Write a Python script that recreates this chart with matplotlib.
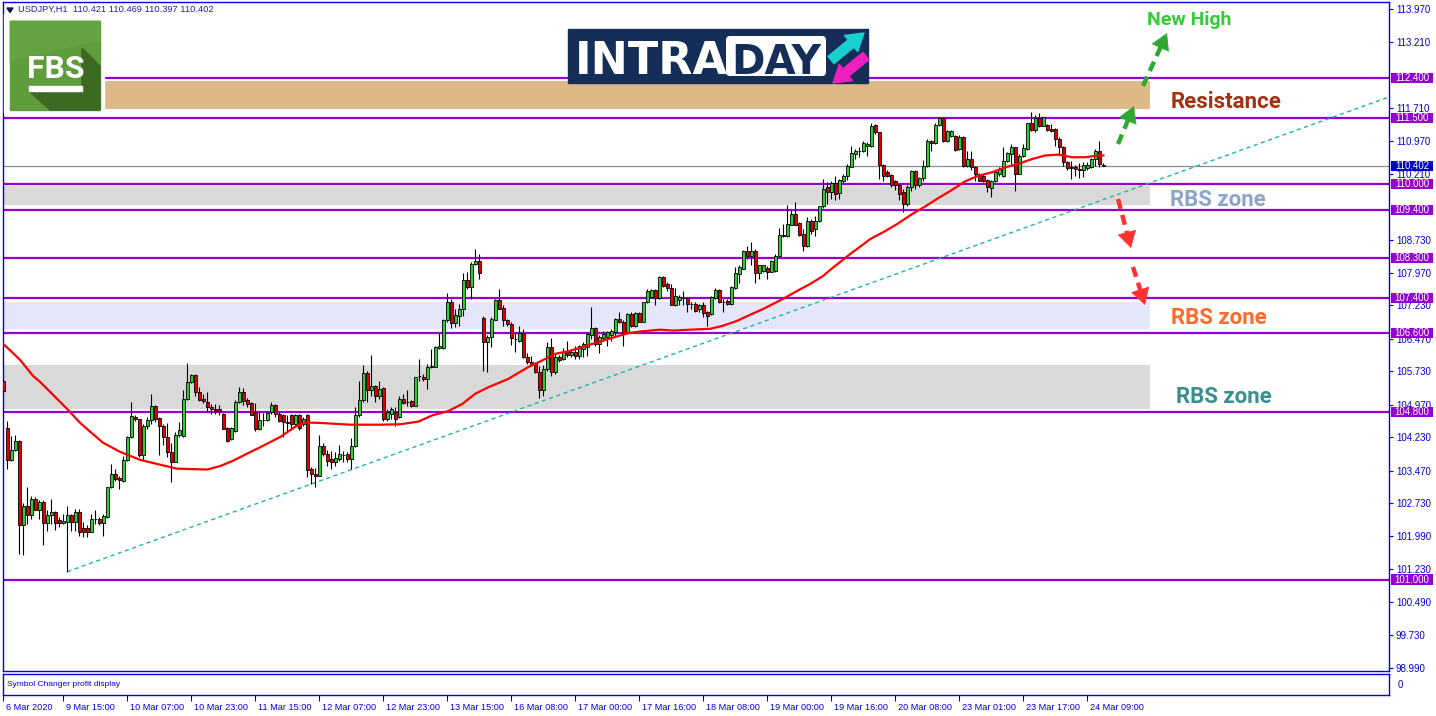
import matplotlib.pyplot as plt
from matplotlib.patches import Rectangle, FancyBboxPatch, Polygon
from matplotlib.transforms import ScaledTranslation

plt.rcParams['font.family'] = ['Liberation Sans', 'DejaVu Sans']

# USDJPY H1 bars (bar 0 = 6 Mar 23:00)
opens = [105.52, 104.45, 103.71, 103.95, 104.14, 102.25, 102.67, 102.46, 102.83, 102.58,
         102.76, 102.28, 102.46, 102.53, 102.36, 102.28, 102.30, 102.47, 102.30, 102.53,
         102.17, 102.17, 102.08, 102.38, 102.38, 102.29, 102.42, 103.10, 103.40, 103.31,
         103.23, 103.71, 104.24, 104.69, 104.64, 103.84, 104.49, 104.63, 104.94, 104.67,
         104.50, 104.24, 103.89, 103.68, 104.29, 104.27, 105.11, 105.49, 105.66, 105.26,
         105.11, 105.03, 104.93, 104.88, 104.88, 104.77, 104.45, 104.20, 104.37, 105.03,
         105.26, 105.07, 105.01, 104.80, 104.42, 104.63, 104.63, 104.80, 104.96, 104.77,
         104.74, 104.59, 104.73, 104.54, 104.74, 104.54, 104.74, 103.52, 103.40, 103.36,
         104.03, 103.86, 103.74, 103.67, 103.74, 103.84, 103.86, 103.73, 104.03, 104.73,
         105.07, 105.70, 105.30, 105.41, 105.18, 105.36, 104.65, 104.77, 104.80, 104.69,
         105.11, 105.03, 105.05, 104.95, 105.62, 105.61, 105.55, 105.83, 105.84, 106.27,
         106.27, 106.89, 107.32, 106.83, 107.00, 107.15, 107.80, 107.66, 108.17, 108.25,
         106.95, 106.41, 106.51, 106.91, 107.36, 107.17, 106.90, 106.81, 106.47, 106.43,
         106.60, 106.05, 105.94, 105.92, 105.71, 105.30, 105.79, 106.28, 105.72, 106.05,
         106.02, 106.18, 106.10, 106.18, 106.09, 106.24, 106.28, 106.55, 106.71, 106.36,
         106.49, 106.51, 106.55, 106.62, 106.92, 106.86, 106.62, 107.04, 106.76, 107.06,
         106.86, 107.30, 107.42, 107.58, 107.40, 107.87, 107.72, 107.63, 107.24, 107.36,
         107.40, 107.40, 107.27, 107.26, 107.14, 107.24, 107.09, 107.04, 107.39, 107.58,
         107.32, 107.34, 107.27, 107.62, 107.95, 108.06, 108.46, 108.36, 108.48, 107.97,
         108.02, 108.08, 108.00, 108.02, 108.36, 108.83, 108.82, 109.07, 109.31, 109.11,
         108.86, 108.58, 109.16, 108.97, 109.14, 109.49, 109.93, 109.80, 110.01, 109.78,
         110.05, 110.18, 110.39, 110.68, 110.75, 110.74, 110.86, 110.86, 111.34, 111.17,
         110.43, 110.26, 110.20, 110.07, 109.97, 109.80, 109.54, 109.92, 110.28, 109.96,
         110.13, 110.41, 110.96, 110.92, 111.33, 111.49, 110.96, 111.09, 111.09, 110.79,
         111.07, 110.41, 110.56, 110.39, 110.22, 110.18, 110.08, 109.90, 110.05, 110.21,
         110.18, 110.51, 110.68, 110.83, 110.22, 110.62, 110.79, 111.37, 111.22, 111.49,
         111.32, 111.34, 111.24, 111.24, 111.02, 110.84, 110.49, 110.36, 110.39, 110.33,
         110.31, 110.36, 110.37, 110.55, 110.75, 110.421]
highs = [105.55, 104.61, 104.27, 104.29, 104.17, 102.74, 103.10, 102.89, 102.87, 102.80,
         102.80, 102.57, 102.82, 102.55, 102.42, 102.49, 102.68, 102.49, 102.61, 102.61,
         102.30, 102.23, 102.49, 102.58, 102.43, 102.49, 103.11, 103.63, 103.52, 103.36,
         103.80, 104.27, 105.03, 104.74, 104.65, 104.54, 104.69, 105.22, 104.96, 104.69,
         104.54, 104.55, 104.10, 104.35, 104.58, 105.30, 105.92, 105.67, 105.67, 105.37,
         105.22, 105.26, 104.99, 104.99, 104.96, 104.78, 104.46, 104.46, 105.07, 105.37,
         105.35, 105.13, 105.03, 105.01, 104.80, 104.78, 104.80, 105.03, 104.99, 104.80,
         104.77, 104.74, 104.77, 104.77, 104.77, 104.69, 104.77, 103.55, 103.53, 104.29,
         104.11, 103.95, 103.93, 103.89, 104.05, 103.93, 103.89, 104.21, 104.92, 105.52,
         105.88, 105.73, 106.11, 105.42, 105.52, 105.37, 104.88, 104.92, 104.92, 105.18,
         105.22, 105.30, 105.07, 105.61, 106.02, 105.67, 105.90, 106.24, 106.30, 106.60,
         106.92, 107.52, 107.38, 107.14, 107.27, 107.98, 108.00, 108.21, 108.52, 108.40,
         107.00, 106.55, 106.96, 107.38, 107.61, 107.23, 106.92, 106.85, 106.61, 106.76,
         106.70, 106.15, 106.09, 105.95, 105.86, 105.88, 106.39, 106.48, 106.12, 106.10,
         106.27, 106.43, 106.25, 106.32, 106.33, 106.39, 106.62, 107.19, 106.74, 106.55,
         106.66, 106.66, 106.70, 106.94, 107.08, 106.89, 107.06, 107.09, 107.08, 107.08,
         107.32, 107.61, 107.61, 107.61, 107.89, 107.89, 107.77, 107.72, 107.62, 107.47,
         107.57, 107.42, 107.32, 107.30, 107.27, 107.30, 107.11, 107.44, 107.62, 107.61,
         107.38, 107.38, 107.68, 108.10, 108.14, 108.50, 108.58, 108.68, 108.52, 108.15,
         108.14, 108.12, 108.27, 108.40, 108.99, 109.08, 109.52, 109.41, 109.58, 109.12,
         108.96, 109.25, 109.20, 109.27, 109.50, 110.10, 110.03, 110.07, 110.18, 110.11,
         110.22, 110.45, 110.86, 110.79, 110.83, 110.96, 110.94, 111.37, 111.36, 111.18,
         110.45, 110.30, 110.22, 110.08, 110.00, 109.88, 109.96, 110.30, 110.30, 110.16,
         110.54, 111.02, 110.99, 111.37, 111.51, 111.51, 111.21, 111.22, 111.11, 111.11,
         111.09, 110.75, 110.75, 110.41, 110.25, 110.22, 110.11, 110.08, 110.30, 110.37,
         110.83, 110.71, 110.90, 110.84, 110.68, 110.90, 111.39, 111.62, 111.55, 111.60,
         111.52, 111.36, 111.36, 111.27, 111.05, 110.86, 110.51, 110.51, 110.43, 110.46,
         110.49, 110.49, 110.58, 110.79, 110.96, 110.469]
lows = [105.26, 103.52, 103.70, 103.93, 101.58, 101.55, 102.27, 102.38, 102.57, 102.38,
        101.79, 102.11, 102.27, 102.13, 102.19, 102.27, 101.18, 102.11, 102.11, 102.00,
        101.96, 101.96, 102.07, 102.27, 102.23, 102.00, 102.40, 103.08, 103.25, 103.06,
        103.21, 103.70, 104.21, 104.61, 103.78, 103.72, 104.42, 104.54, 104.58, 103.82,
        104.05, 103.78, 103.21, 103.67, 104.24, 104.24, 105.07, 105.46, 105.18, 105.05,
        105.01, 104.80, 104.77, 104.77, 104.73, 104.42, 104.12, 104.17, 104.35, 105.01,
        104.96, 104.92, 104.73, 104.37, 104.40, 104.48, 104.61, 104.77, 104.69, 104.58,
        104.23, 104.35, 104.39, 104.46, 104.41, 104.50, 103.33, 103.17, 103.10, 103.35,
        103.80, 103.59, 103.52, 103.59, 103.70, 103.67, 103.68, 103.52, 104.01, 104.69,
        105.03, 105.03, 105.18, 105.03, 105.11, 104.61, 104.61, 104.65, 104.50, 104.67,
        104.99, 104.95, 104.92, 104.94, 105.52, 105.52, 105.33, 105.80, 105.83, 106.24,
        106.24, 106.85, 106.71, 106.73, 106.76, 106.98, 107.61, 107.38, 108.14, 107.83,
        105.73, 105.71, 106.28, 106.89, 107.14, 106.77, 106.77, 106.33, 106.17, 106.39,
        106.03, 105.90, 105.86, 105.70, 105.12, 105.18, 105.75, 105.62, 105.68, 105.95,
        105.98, 106.05, 106.05, 106.01, 106.02, 106.05, 106.09, 106.47, 106.30, 106.15,
        106.43, 106.32, 106.43, 106.51, 106.83, 106.30, 106.61, 106.74, 106.74, 106.85,
        106.85, 107.29, 107.39, 107.23, 107.38, 107.64, 107.57, 107.23, 107.21, 107.24,
        107.23, 107.09, 107.15, 107.09, 107.09, 106.96, 106.76, 107.01, 107.38, 107.29,
        107.09, 107.24, 107.24, 107.61, 107.74, 108.05, 108.29, 108.14, 107.74, 107.83,
        107.99, 107.83, 107.99, 108.00, 108.35, 108.78, 108.78, 109.05, 109.05, 108.80,
        108.46, 108.55, 108.86, 108.82, 109.12, 109.45, 109.54, 109.65, 109.63, 109.65,
        110.01, 110.08, 110.37, 110.56, 110.60, 110.71, 110.64, 110.84, 111.13, 110.11,
        110.07, 110.14, 109.93, 109.86, 109.63, 109.35, 109.50, 109.84, 109.88, 109.92,
        110.05, 110.37, 110.75, 110.90, 111.32, 110.94, 110.94, 111.07, 110.75, 110.77,
        110.39, 110.37, 110.30, 110.07, 110.05, 110.03, 109.80, 109.69, 110.03, 110.18,
        110.16, 110.49, 110.45, 109.83, 110.21, 110.60, 110.77, 111.19, 111.17, 111.28,
        111.30, 111.19, 111.17, 110.86, 110.68, 110.41, 110.30, 110.11, 110.18, 110.13,
        110.14, 110.30, 110.36, 110.41, 110.37, 110.397]
closes = [105.28, 103.72, 103.95, 104.14, 102.23, 102.67, 102.46, 102.83, 102.59, 102.76,
          102.28, 102.46, 102.53, 102.28, 102.28, 102.34, 102.46, 102.30, 102.53, 102.08,
          102.08, 102.08, 102.38, 102.38, 102.28, 102.44, 103.10, 103.40, 103.29, 103.27,
          103.71, 104.24, 104.71, 104.64, 103.84, 104.50, 104.63, 104.94, 104.64, 104.50,
          104.24, 103.89, 103.68, 104.29, 104.39, 105.11, 105.49, 105.66, 105.26, 105.09,
          105.05, 104.92, 104.88, 104.84, 104.84, 104.42, 104.16, 104.45, 105.03, 105.26,
          105.05, 104.99, 104.75, 104.42, 104.63, 104.63, 104.78, 104.96, 104.77, 104.61,
          104.59, 104.56, 104.54, 104.74, 104.44, 104.65, 103.48, 103.40, 103.36, 104.03,
          103.86, 103.70, 103.67, 103.77, 103.86, 103.83, 103.73, 104.03, 104.73, 105.07,
          105.70, 105.30, 105.41, 105.18, 105.33, 104.65, 104.80, 104.88, 104.65, 105.11,
          105.02, 105.03, 104.95, 105.60, 105.62, 105.55, 105.84, 105.86, 106.28, 106.30,
          106.91, 107.32, 106.83, 107.02, 107.15, 107.80, 107.66, 108.17, 108.25, 107.97,
          106.39, 106.52, 106.92, 107.36, 107.15, 106.89, 106.81, 106.48, 106.47, 106.60,
          106.05, 105.94, 105.90, 105.71, 105.30, 105.79, 106.28, 105.71, 106.05, 106.00,
          106.18, 106.10, 106.18, 106.08, 106.30, 106.36, 106.58, 106.71, 106.36, 106.51,
          106.58, 106.62, 106.64, 106.92, 106.85, 106.61, 107.04, 106.76, 107.06, 106.86,
          107.30, 107.57, 107.58, 107.40, 107.87, 107.68, 107.62, 107.24, 107.45, 107.42,
          107.40, 107.27, 107.26, 107.11, 107.24, 107.06, 107.00, 107.42, 107.59, 107.30,
          107.32, 107.27, 107.66, 107.97, 108.10, 108.46, 108.36, 108.48, 107.97, 108.14,
          108.14, 108.00, 108.25, 108.36, 108.83, 108.80, 109.08, 109.31, 109.07, 108.83,
          108.58, 109.16, 108.93, 109.16, 109.49, 109.88, 109.80, 110.01, 109.77, 110.08,
          110.18, 110.41, 110.69, 110.75, 110.75, 110.92, 110.90, 111.32, 111.17, 110.43,
          110.18, 110.18, 109.96, 109.96, 109.77, 109.54, 109.92, 110.28, 109.96, 110.13,
          110.41, 110.96, 110.92, 111.34, 111.49, 110.96, 111.19, 111.19, 110.77, 111.07,
          110.41, 110.56, 110.39, 110.22, 110.07, 110.05, 109.92, 110.07, 110.26, 110.33,
          110.51, 110.69, 110.84, 110.22, 110.64, 110.81, 111.37, 111.22, 111.49, 111.32,
          111.51, 111.22, 111.19, 111.02, 110.83, 110.49, 110.36, 110.39, 110.33, 110.30,
          110.43, 110.43, 110.56, 110.75, 110.45, 110.402]

# moving average (red line): bar position, price
ma_idx = [-0.1, 2.4, 4.2, 7.4, 9.2, 12.4, 15.9, 19.2, 21.7, 24.9, 29.2, 34.2, 39.2, 43.4,
          50.9, 54.2, 57.4, 60.9, 64.9, 69.2, 72.9, 75.4, 79.2, 82.9, 86.7, 90.4, 94.2, 99.2,
          103.7, 107.2, 111.2, 114.7, 117.9, 121.2, 126.2, 131.2, 134.7, 137.9, 141.7, 145.9,
          149.9, 154.2, 156.7, 159.2, 164.2, 167.4, 171.7, 176.7, 179.9, 183.4, 186.7, 189.9,
          194.9, 198.4, 201.7, 204.9, 206.7, 211.7, 216.7, 220.4, 223.4, 227.2, 230.4, 233.7,
          237.2, 240.4, 243.7, 247.2, 250.4, 253.7, 257.2, 260.4, 263.7, 267.2, 270.4, 273.7, 275.0]
ma_val = [106.36, 106.15, 105.99, 105.63, 105.49, 105.20, 104.88, 104.56, 104.36, 104.11,
          103.90, 103.72, 103.61, 103.52, 103.50, 103.58, 103.70, 103.86, 104.04, 104.24,
          104.47, 104.57, 104.56, 104.54, 104.52, 104.52, 104.52, 104.53, 104.59, 104.73,
          104.83, 104.99, 105.22, 105.37, 105.56, 105.83, 105.98, 106.13, 106.20, 106.32,
          106.43, 106.55, 106.61, 106.64, 106.68, 106.66, 106.68, 106.70, 106.77, 106.88,
          107.02, 107.15, 107.38, 107.56, 107.72, 107.90, 108.04, 108.40, 108.74, 108.92,
          109.08, 109.31, 109.48, 109.67, 109.86, 110.05, 110.18, 110.26, 110.37, 110.45,
          110.56, 110.64, 110.66, 110.60, 110.60, 110.64, 110.64]

levels = [112.4, 111.5, 110.0, 109.4, 108.3, 107.4, 106.6, 104.8, 101.0]
last_price = 110.402
axis_ticks = [113.97, 113.21, 111.71, 110.97, 110.21, 108.73, 107.97, 107.23, 106.47,
              105.73, 104.97, 104.23, 103.47, 102.73, 101.99, 101.23, 100.49, 99.73, 98.99]
time_pos = [0, 15, 31, 47, 63, 79, 95, 111, 127, 143, 159, 175, 191, 207, 223, 239, 255, 271]
time_labels = ['6 Mar 2020', '9 Mar 15:00', '10 Mar 07:00', '10 Mar 23:00', '11 Mar 15:00',
               '12 Mar 07:00', '12 Mar 23:00', '13 Mar 15:00', '16 Mar 08:00', '17 Mar 00:00',
               '17 Mar 16:00', '18 Mar 08:00', '19 Mar 00:00', '19 Mar 16:00', '20 Mar 08:00',
               '23 Mar 01:00', '23 Mar 17:00', '24 Mar 09:00']

# zones: (left bar, right bar, low, high, colour)
zones = [(25.2, 286.7, 111.70, 112.34, '#DEB887'),
         (-0.1, 286.7, 109.52, 109.95, '#D9D9D9'),
         (-0.1, 286.7, 106.70, 107.32, '#E6E6FA'),
         (-0.1, 286.7, 104.88, 105.88, '#D9D9D9')]
trend_x = [16, 346.7]
trend_y = [101.18, 111.98]

W, H = 1436, 716
BLUE = '#0000E0'
PURPLE = '#9400D3'

fig = plt.figure(figsize=(W / 100, H / 100), dpi=100)
fig.patch.set_facecolor('white')

ax = fig.add_axes([3 / W, 1 - 671 / H, 1386 / W, 669 / H])
ax.set_xlim(-0.1, 346.4)
ax.set_ylim(98.92, 114.13)

for x0, x1, lo, hi, col in zones:
    ax.add_patch(Rectangle((x0, lo), x1 - x0, hi - lo, facecolor=col, edgecolor='none', zorder=1))
for lv in levels:
    ax.axhline(lv, color=PURPLE, lw=1.6, zorder=2)
ax.axhline(last_price, color='#8C8C8C', lw=0.9, zorder=2)
ax.plot(trend_x, trend_y, color='#20B2AA', lw=1.0, ls=(0, (3, 2.5)), zorder=2.5)

# candles
xs = list(range(len(closes)))
body_lo = [min(o, c) for o, c in zip(opens, closes)]
body_h = [abs(c - o) for o, c in zip(opens, closes)]
cols = ['#2ECC2E' if c >= o else '#E00000' for o, c in zip(opens, closes)]
ax.vlines(xs, lows, highs, color='black', lw=0.8, zorder=3)
ax.bar(xs, body_h, bottom=body_lo, width=0.72, color=cols, edgecolor='black', linewidth=0.6, zorder=4)

ax.plot(ma_idx, ma_val, color='#FF0000', lw=1.6, zorder=5)

# right price scale
ax.yaxis.tick_right()
ax.set_yticks(axis_ticks)
ax.set_yticklabels([f'{v:.3f}' for v in axis_ticks])
ax.tick_params(axis='y', direction='out', length=3, width=0.8, color=BLUE,
               labelcolor=BLUE, labelsize=7, pad=2)
ax.set_xticks([])
for s in ax.spines.values():
    s.set_color(BLUE)
    s.set_linewidth(1)

yt = ax.get_yaxis_transform()
for lv in levels + [last_price]:
    fc = '#0000CD' if lv == last_price else PURPLE
    ax.add_patch(Rectangle((1.0014, lv - 0.115), 0.0303, 0.23, transform=yt, facecolor=fc,
                           edgecolor='none', clip_on=False, zorder=6))
    ax.text(1.0166, lv, f'{lv:.3f}', transform=yt, ha='center', va='center', color='white',
            fontsize=7, clip_on=False, zorder=7)

# indicator sub-window and time scale
ax2 = fig.add_axes([3 / W, 1 - 695 / H, 1386 / W, 21 / H])
ax2.set_xlim(ax.get_xlim())
ax2.set_ylim(0, 1)
ax2.set_yticks([])
ax2.set_xticks(time_pos)
ax2.set_xticklabels(time_labels, ha='left')
ax2.tick_params(axis='x', direction='out', length=4, width=0.8, color=BLUE,
                labelcolor=BLUE, labelsize=6.6, pad=1.5)
for lab in ax2.get_xticklabels():
    lab.set_transform(lab.get_transform() + ScaledTranslation(2 / 72, 0, fig.dpi_scale_trans))
for s in ax2.spines.values():
    s.set_color(BLUE)
    s.set_linewidth(1)
ax2.text(0.003, 0.5, 'Symbol Changer profit display', transform=ax2.transAxes,
         color=BLUE, fontsize=6, va='center')
ax2.text(1.006, 0.5, '0', transform=ax2.transAxes, color=BLUE, fontsize=7, va='center')

# overlay in pixel coordinates for logos and annotations
ov = fig.add_axes([0, 0, 1, 1], zorder=10)
ov.set_xlim(0, W)
ov.set_ylim(H, 0)
ov.axis('off')

ov.add_patch(Polygon([[7, 8], [13, 8], [10, 12.5]], closed=True, color='#101060'))
ov.text(18, 9.5, 'USDJPY,H1  110.421 110.469 110.397 110.402', color='#1E1EB4',
        fontsize=6.7, va='center', ha='left')

# FBS logo
ov.add_patch(Rectangle((3.5, 14), 100.5, 99, color='white', zorder=1))
ov.add_patch(Rectangle((10, 21), 90, 89, color='#5E9C3C', zorder=2))
ov.add_patch(Polygon([[10, 21], [100, 21], [100, 40], [10, 60]], closed=True,
                     color='#6AA846', alpha=0.6, zorder=2))
ov.add_patch(Polygon([[82, 48], [100, 66], [100, 110], [50, 110], [29, 91], [82, 91]],
                     closed=True, color='#3B6A22', zorder=3))
ov.text(55.5, 78, 'FBS', color='white', fontsize=23, fontweight='bold', family='Roboto',
        ha='center', va='baseline', zorder=4)
ov.add_patch(Rectangle((29, 86), 53, 5, color='white', zorder=4))

# INTRADAY logo
ov.add_patch(Rectangle((568, 29), 300, 54, color='#152E57', zorder=2))
ov.text(575, 73.5, 'INTRA', color='white', fontsize=32, fontweight='bold',
        family='DejaVu Sans', ha='left', va='baseline', zorder=3)
ov.add_patch(FancyBboxPatch((726, 36), 100, 40, boxstyle='round,pad=0,rounding_size=4',
                            fc='white', ec='none', zorder=3))
ov.text(776, 73.5, 'DAY', color='#152E57', fontsize=29, fontweight='bold',
        family='DejaVu Sans', ha='center', va='baseline', zorder=4)
ov.annotate('', xy=(864, 33), xytext=(831, 60), zorder=4,
            arrowprops=dict(arrowstyle='simple,head_length=0.8,head_width=1.0,tail_width=0.45',
                            color='#1ACFCF', mutation_scale=15, shrinkA=0, shrinkB=0))
ov.annotate('', xy=(833, 83), xytext=(866, 56), zorder=4,
            arrowprops=dict(arrowstyle='simple,head_length=0.8,head_width=1.0,tail_width=0.45',
                            color='#F020C0', mutation_scale=15, shrinkA=0, shrinkB=0))


def dashed_arrow(p0, p1, color):
    dx, dy = p1[0] - p0[0], p1[1] - p0[1]
    L = (dx * dx + dy * dy) ** 0.5
    ux, uy = dx / L, dy / L
    s = (p1[0] - ux * 10, p1[1] - uy * 10)
    ov.plot([p0[0], s[0]], [p0[1], s[1]], color=color, lw=3.2, ls=(0, (2.3, 1.4)),
            dash_capstyle='butt', zorder=5)
    ov.annotate('', xy=p1, xytext=(p1[0] - ux * 14, p1[1] - uy * 14), zorder=5,
                arrowprops=dict(arrowstyle='-|>,head_length=0.55,head_width=0.32', color=color,
                                lw=0.5, mutation_scale=20, shrinkA=0, shrinkB=0))


dashed_arrow((1118, 144), (1134, 106), '#2EA82E')
dashed_arrow((1143, 86), (1167, 33), '#2EA82E')
dashed_arrow((1118, 199), (1131, 248), '#FF3030')
dashed_arrow((1133, 267), (1145, 305), '#FF3030')

ov.text(1147, 25, 'New High', color='#35CC35', fontsize=14, fontweight='bold',
        family='Roboto', ha='left', va='baseline')
ov.text(1171, 108.5, 'Resistance', color='#A3300F', fontsize=16, fontweight='bold',
        family='Roboto', ha='left', va='baseline')
ov.text(1170, 206, 'RBS zone', color='#8BA5C9', fontsize=16, fontweight='bold',
        family='Roboto', ha='left', va='baseline')
ov.text(1171, 323.5, 'RBS zone', color='#FF6A2A', fontsize=16, fontweight='bold',
        family='Roboto', ha='left', va='baseline')
ov.text(1176, 403, 'RBS zone', color='#3A8E8E', fontsize=16, fontweight='bold',
        family='Roboto', ha='left', va='baseline')

fig.savefig('out.png', dpi=100)
